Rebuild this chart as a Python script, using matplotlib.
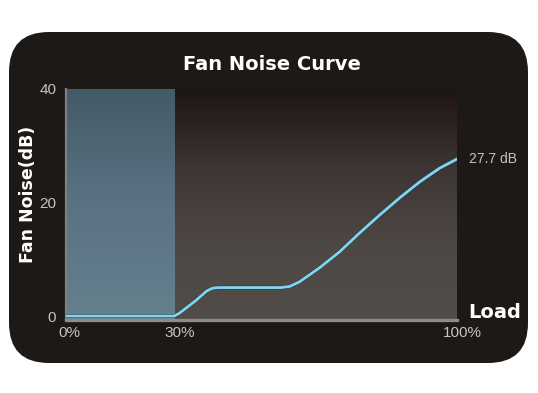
import numpy as np
import matplotlib
matplotlib.use("Agg")
import matplotlib.pyplot as plt
from matplotlib.patches import FancyBboxPatch
from matplotlib.colors import LinearSegmentedColormap
import matplotlib.patheffects as pe

# curve (load %, noise dB)
load = [0, 27.7, 29.0, 33.0, 36.0, 37.5, 39.0, 55.0, 57.2, 59.7, 64.9, 70.0,
        75.1, 80.3, 85.4, 90.5, 95.6, 100]
noise = [0.1, 0.1, 0.6, 2.7, 4.5, 5.0, 5.1, 5.1, 5.3, 6.1, 8.6, 11.4,
         14.7, 17.9, 20.9, 23.7, 26.1, 27.7]
shade_end = 27.7
x_tick_pos = [0.8, 29.0, 101.5]
x_tick_labels = ['0%', '30%', '100%']
y_ticks = [0, 20, 40]
end_label = '27.7 dB'

fig = plt.figure(figsize=(5.38, 3.93), dpi=100)
fig.patch.set_facecolor('white')

# rounded dark panel
panel = FancyBboxPatch((0.09 + 0.4, 0.30 + 0.4), 5.19 - 0.8, 3.31 - 0.8,
                       boxstyle='round,pad=0.4', transform=fig.dpi_scale_trans,
                       facecolor='#1c1916', edgecolor='none', zorder=-1)
fig.patches.append(panel)

ax = fig.add_axes([66 / 538, 73 / 393, 391 / 538, 231 / 393])
ax.set_zorder(1)
ylo = -0.6
ax.set_facecolor('none')

# row 0 = top of plot (dark), last row = bottom (lighter)
grad = np.linspace(0, 1, 256).reshape(-1, 1)
bg_cmap = LinearSegmentedColormap.from_list('bg', ['#1e1514', '#3c3533', '#4e4845', '#534d4a'])
ax.imshow(grad, cmap=bg_cmap, extent=[0, 100, ylo, 40], origin='upper', aspect='auto', zorder=0)
blue_cmap = LinearSegmentedColormap.from_list('bl', ['#445a68', '#5a7282', '#66808e'])
ax.imshow(grad, cmap=blue_cmap, extent=[0, shade_end, ylo, 40], origin='upper', aspect='auto', zorder=1)
ax.set_xlim(0, 100)
ax.set_ylim(ylo, 40)

ax.plot(load, noise, color='#80d6f2', lw=2.0, zorder=3, solid_capstyle='round',
        path_effects=[pe.Stroke(linewidth=2.8, foreground='#2c3a42'), pe.Normal()])

for s in ['top', 'right', 'bottom']:
    ax.spines[s].set_visible(False)
ax.spines['left'].set_color('#7c8084')
ax.spines['left'].set_linewidth(1.6)
ax.axhline(ylo, color='#8c8c8c', lw=2.4, zorder=4, clip_on=False)

ax.set_xticks([])
ax.set_yticks(y_ticks)
ax.set_yticklabels([str(v) for v in y_ticks])
ax.tick_params(axis='y', length=0, pad=7, labelcolor='#c4c4c4', labelsize=11)
for lab in ax.get_yticklabels():
    lab.set_family('Liberation Sans')

for pos, lab in zip(x_tick_pos, x_tick_labels):
    ax.text(pos, -0.025, lab, transform=ax.get_xaxis_transform(), ha='center', va='top',
            color='#c4c4c4', fontsize=11, family='Liberation Sans', clip_on=False)

ax.text(1.03, noise[-1], end_label, transform=ax.get_yaxis_transform(), ha='left',
        va='center', color='#c4c4c4', fontsize=10, family='Liberation Sans', clip_on=False)

fig.text(272 / 538, 1 - 65 / 393, 'Fan Noise Curve', ha='center', va='center',
         color='white', fontsize=14, fontweight='bold')
fig.text(28 / 538, 1 - 194 / 393, 'Fan Noise(dB)', ha='center', va='center',
         rotation=90, color='white', fontsize=12.5, fontweight='bold')
fig.text(495 / 538, 1 - 312 / 393, 'Load', ha='center', va='center',
         color='white', fontsize=14, fontweight='bold')

fig.savefig('out.png', dpi=100, facecolor='white')
